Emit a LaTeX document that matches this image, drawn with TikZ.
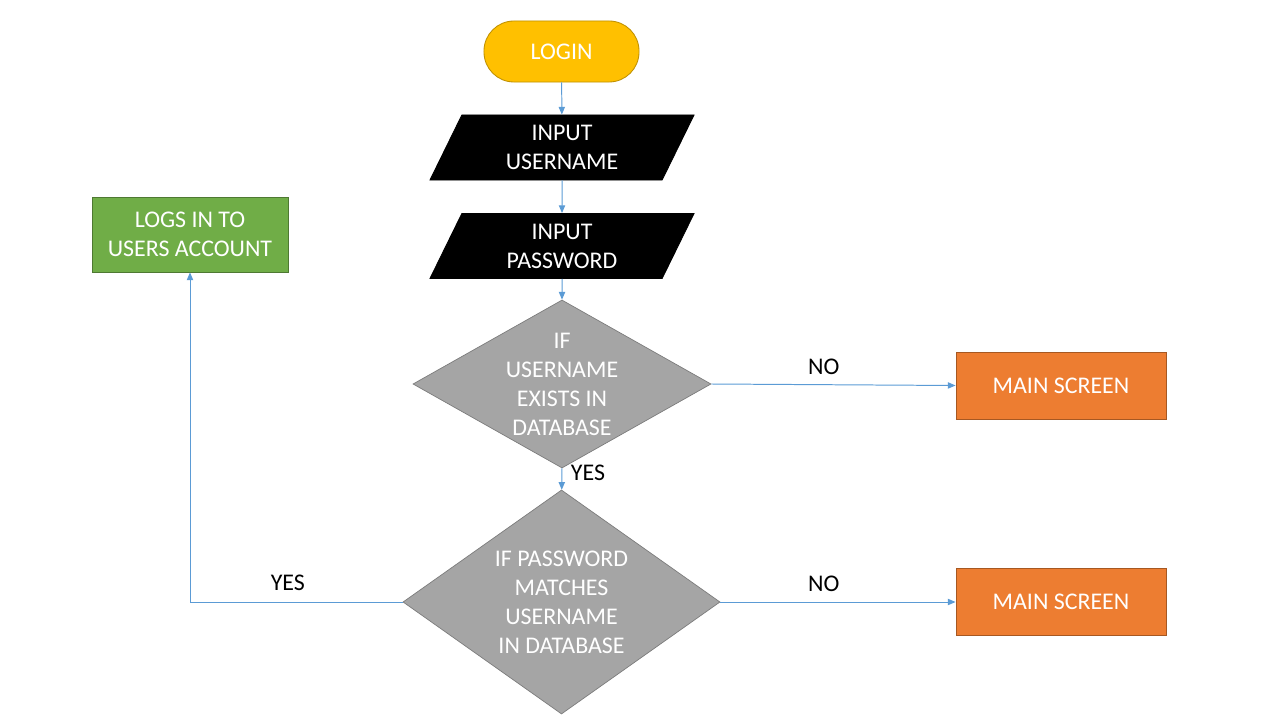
\documentclass[tikz,border=0pt]{standalone}
\usepackage{fontspec}
\setmainfont{Carlito}
\usepackage{tikz}
\usetikzlibrary{positioning, arrows.meta, shapes.geometric}
\definecolor{startcolor}{HTML}{FFC000}
\definecolor{deccolor}{HTML}{A5A5A5}
\definecolor{endcolor}{HTML}{ED7D31}
\definecolor{okcolor}{HTML}{70AD47}
\definecolor{arrcolor}{HTML}{5B9BD5}

\begin{document}
\begin{tikzpicture}[
  x=0.025cm, y=-0.025cm,
  >={Triangle[length=5.5pt, width=4.5pt]},
  font=\fontsize{17}{20.6}\selectfont,
  % --- Styles ---
  startbox/.style={
    rectangle, rounded corners=0.75cm, draw=startcolor!75!black, fill=startcolor,
    line width=0.6pt, minimum width=3.875cm, minimum height=1.525cm,
    text=white, align=center},
  iobox/.style={
    trapezium, trapezium left angle=56, trapezium right angle=124,
    trapezium stretches body, draw=black, fill=black, line width=0.6pt,
    minimum width=6.6cm, minimum height=1.625cm, inner sep=1pt,
    text=white, align=center},
  decbox/.style={
    diamond, draw=deccolor!75!black, fill=deccolor, line width=0.5pt,
    inner sep=0pt},
  dectext/.style={text=white, align=center},
  endbox/.style={
    rectangle, draw=endcolor!70!black, fill=endcolor, line width=0.6pt,
    minimum width=5.25cm, minimum height=1.675cm, text=white, align=center},
  okbox/.style={
    rectangle, draw=okcolor!70!black, fill=okcolor, line width=0.6pt,
    minimum width=4.9cm, minimum height=1.875cm, text=white, align=center},
  myarr/.style={->, line width=0.7pt, arrcolor},
  albl/.style={text=black},
]
\useasboundingbox (0,0) rectangle (1280,720);
% === NODES ===
\node[startbox] (L) at (561.5,51.5) {LOGIN};
\node[iobox] (U) at (562,147.5) {INPUT\\USERNAME};
\node[iobox] (P) at (562,246) {INPUT\\PASSWORD};
% decisions
\node[decbox, minimum width=7.45cm, minimum height=4.2cm,
      label={[dectext]center:{IF\\USERNAME\\EXISTS IN\\DATABASE}}] (D1) at (562,384) {};
\node[decbox, minimum width=7.925cm, minimum height=5.6cm,
      label={[dectext]center:{IF PASSWORD\\MATCHES\\USERNAME\\IN DATABASE}}] (D2) at (561.5,602) {};
% outcomes
\node[endbox] (M1) at (1061,385.5) {MAIN SCREEN};
\node[endbox] (M2) at (1061,602) {MAIN SCREEN};
\node[okbox] (G) at (190,234.5) {LOGS IN TO\\USERS ACCOUNT};

% === ARROWS ===
\draw[myarr] (L) -- (U);
\draw[myarr] (U) -- (P);
\draw[myarr] (P) -- (D1);
\draw[myarr] (D1) -- node[albl, right, pos=0.2, xshift=0.1cm] {YES} (D2);
\draw[myarr] (D1.east) -- node[albl, above, pos=0.46, yshift=0.13cm] {NO} (M1.west);
\draw[myarr] (D2.east) -- node[albl, above, pos=0.44, yshift=0.13cm] {NO} (M2.west);
\draw[myarr] (D2.west) -| node[albl, above, pos=0.27, yshift=0.15cm] {YES} (G.south);
\end{tikzpicture}
\end{document}
